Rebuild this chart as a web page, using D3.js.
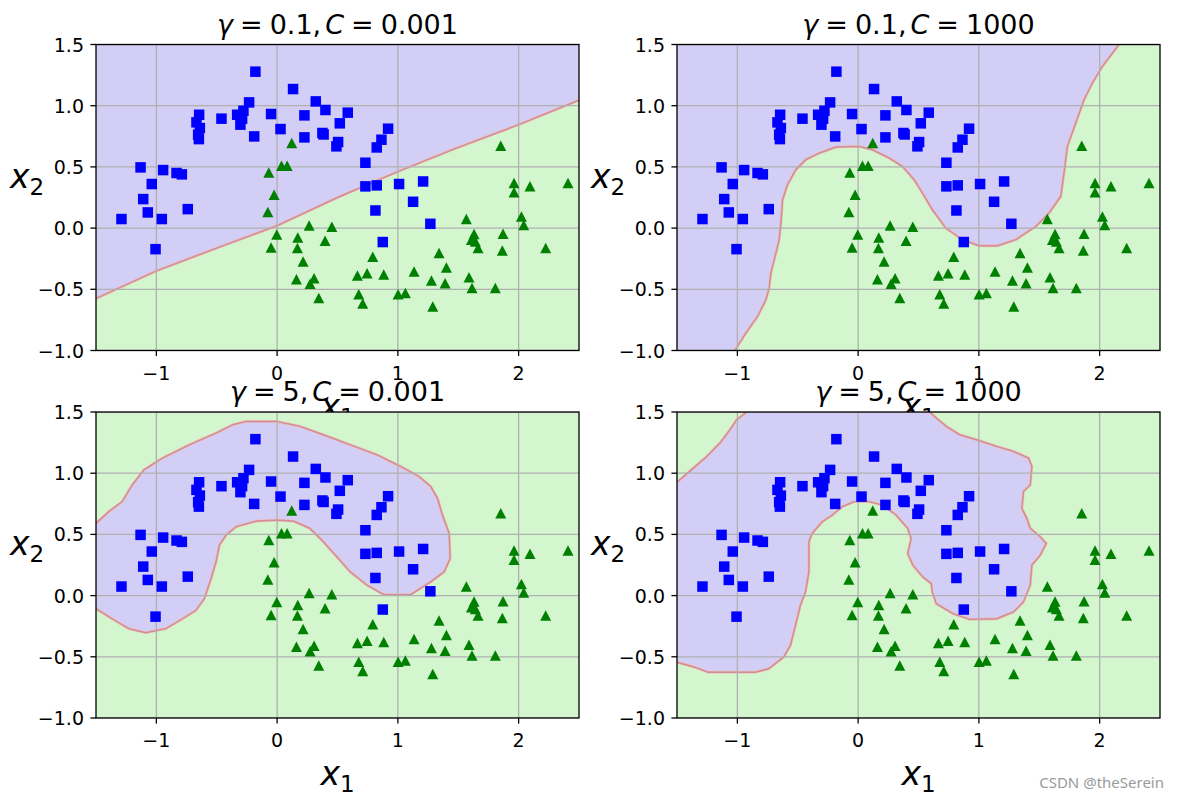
<!DOCTYPE html>
<html><head><meta charset="utf-8">
<script src="https://cdn.jsdelivr.net/npm/d3@7"></script>
<style>body{margin:0;background:#fff} svg text{font-family:"DejaVu Sans",sans-serif}</style>
</head><body><svg id="c" width="1177" height="797"></svg>
<script>
// ---------- data ----------
const xTicks = [-1, 0, 1, 2];
const xTickLabels = ["\u22121", "0", "1", "2"];
const yTicks = [-1, -0.5, 0, 0.5, 1, 1.5];
const yTickLabels = ["\u22121.0", "\u22120.5", "0.0", "0.5", "1.0", "1.5"];
const gammas = ["0.1", "0.1", "5", "5"];
const Cs = ["0.001", "1000", "0.001", "1000"];

const bluePoints = [
 [-0.18,1.278],[0.132,1.136],[-0.232,1.027],[0.32,1.035],[0.40,0.965],[0.585,0.943],
 [-0.05,0.932],[0.226,0.921],[-0.279,0.959],[-0.331,0.926],[-0.29,0.894],[-0.304,0.845],
 [-0.461,0.894],[-0.646,0.926],[-0.668,0.864],[-0.64,0.817],[-0.654,0.763],[-0.648,0.727],
 [-0.19,0.749],[0.028,0.809],[0.226,0.741],[0.375,0.777],[0.385,0.765],[0.519,0.856],[0.505,0.703],
 [0.491,0.668],[0.919,0.812],[0.864,0.722],[0.825,0.659],[0.731,0.534],[0.731,0.341],
 [0.825,0.349],[1.01,0.36],[1.209,0.381],[1.126,0.215],[0.814,0.144],[1.269,0.035],
 [0.875,-0.114],[-1.131,0.496],[-0.944,0.474],[-0.833,0.45],[-0.789,0.439],[-1.038,0.36],
 [-1.109,0.237],[-1.071,0.128],[-0.955,0.074],[-1.289,0.074],[-0.74,0.155],[-1.007,-0.172]
];
const greenPoints = [
 [0.121,0.695],[0.036,0.51],[0.083,0.51],[-0.069,0.455],[-0.025,0.272],[-0.077,0.131],
 [-0.003,-0.052],[-0.05,-0.158],[0.171,-0.076],[0.168,-0.163],[0.265,0.022],[0.453,0.011],
 [0.397,-0.104],[0.215,-0.272],[0.16,-0.417],[0.306,-0.409],[0.273,-0.455],[0.345,-0.572],
 [0.792,-0.234],[0.745,-0.368],[0.665,-0.387],[0.883,-0.379],[0.676,-0.54],[0.709,-0.616],
 [1.002,-0.54],[1.062,-0.531],[1.134,-0.354],[1.278,-0.428],[1.341,-0.204],[1.402,-0.322],
 [1.391,-0.45],[1.289,-0.64],[1.567,0.074],[1.631,-0.049],[1.609,-0.095],[1.642,-0.109],
 [1.664,-0.163],[1.589,-0.401],[1.614,-0.49],[1.807,-0.49],[1.871,-0.046],[1.865,-0.183],
 [1.852,0.673],[1.962,0.368],[1.962,0.292],[2.094,0.341],[2.023,0.095],[2.042,0.025],
 [2.224,-0.163],[2.409,0.368]
];

// decision boundaries (data coordinates)
const boundaryA = [[-1.5,-0.575],[-1,-0.35],[-0.5,-0.163],[0,0.02],[0.5,0.25],[1,0.462],[1.5,0.66],[2,0.845],[2.5,1.045]];
const boundaryB = [[-1.021,-1],[-0.93,-0.858],[-0.833,-0.722],[-0.764,-0.586],[-0.737,-0.49],[-0.723,-0.368],
 [-0.681,-0.204],[-0.654,-0.095],[-0.64,0.041],[-0.626,0.232],[-0.585,0.354],[-0.516,0.477],[-0.433,0.559],
 [-0.323,0.613],[-0.185,0.662],[0.008,0.668],[0.119,0.64],[0.257,0.572],[0.367,0.504],[0.464,0.395],
 [0.533,0.286],[0.615,0.15],[0.726,0.0],[0.864,-0.095],[1.002,-0.144],[1.153,-0.144],[1.305,-0.095],
 [1.471,0.014],[1.581,0.123],[1.678,0.259],[1.705,0.45],[1.733,0.668],[1.802,0.858],[1.871,1.049],
 [1.94,1.185],[2.023,1.322],[2.16,1.5]];
const boundaryC = [[-1.5,0.59],[-1.394,0.686],[-1.283,0.768],[-1.2,0.904],[-1.103,1.027],[-0.95,1.123],
 [-0.728,1.232],[-0.506,1.328],[-0.367,1.396],[-0.256,1.423],[-0.006,1.423],[0.189,1.383],[0.383,1.314],
 [0.606,1.232],[0.828,1.15],[1.022,1.055],[1.175,0.973],[1.272,0.891],[1.328,0.795],[1.369,0.658],
 [1.425,0.508],[1.433,0.303],[1.383,0.194],[1.272,0.112],[1.106,0.008],[0.883,0.008],[0.744,0.085],
 [0.606,0.194],[0.494,0.317],[0.383,0.44],[0.272,0.549],[0.133,0.609],[-0.006,0.617],[-0.172,0.609],
 [-0.339,0.563],[-0.422,0.495],[-0.478,0.413],[-0.506,0.276],[-0.547,0.139],[-0.603,-0.025],
 [-0.672,-0.12],[-0.783,-0.189],[-0.922,-0.27],[-1.089,-0.303],[-1.228,-0.27],[-1.367,-0.189],[-1.5,-0.107]];
const boundaryD1 = [[-1.5,0.926],[-1.381,1.027],[-1.269,1.123],[-1.144,1.246],[-1.061,1.355],[-1.006,1.437],[-0.922,1.5]];
const boundaryD2 = [[0.592,1.5],[0.647,1.451],[0.731,1.383],[0.842,1.314],[0.981,1.273],[1.147,1.219],
 [1.286,1.178],[1.411,1.123],[1.439,1.055],[1.425,0.904],[1.369,0.85],[1.356,0.713],[1.397,0.631],
 [1.425,0.549],[1.508,0.481],[1.558,0.426],[1.508,0.331],[1.439,0.249],[1.425,0.085],[1.369,-0.052],
 [1.286,-0.134],[1.147,-0.189],[0.925,-0.194],[0.786,-0.148],[0.647,-0.066],[0.614,0.03],[0.606,0.098],
 [0.536,0.153],[0.453,0.249],[0.411,0.344],[0.439,0.467],[0.411,0.549],[0.314,0.658],[0.203,0.74],
 [0.092,0.768],[-0.033,0.768],[-0.131,0.727],[-0.214,0.658],[-0.297,0.604],[-0.381,0.508],[-0.408,0.44],
 [-0.408,0.194],[-0.436,0.03],[-0.478,-0.079],[-0.519,-0.243],[-0.561,-0.407],[-0.617,-0.503],
 [-0.742,-0.598],[-0.853,-0.626],[-1.242,-0.626],[-1.353,-0.585],[-1.5,-0.544]];
const boundaries = [[boundaryA],[boundaryB],[boundaryC],[boundaryD1, boundaryD2]];
const regionCorners = [[[2.5,1.5],[-1.5,1.5]], [[-1.5,1.5],[-1.5,-1]], [], []];

// ---------- layout ----------
const W = 483, H = 306;
const origins = [[96,44.5],[677,44.5],[96,412],[677,412]];
const colPurple = "#d3cef5", colGreen = "#d3f6cf";
const svg = d3.select("#c");
const sx = d3.scaleLinear().domain([-1.5, 2.5]).range([0, W]);
const sy = d3.scaleLinear().domain([-1, 1.5]).range([H, 0]);
const line = d3.line().x(d => sx(d[0])).y(d => sy(d[1]));

function xLabel(g, txt, x, y) {
  const t = g.append("text").attr("x", x).attr("y", y).attr("text-anchor", "middle").attr("font-size", 33);
  t.append("tspan").attr("font-style", "italic").text("x");
  t.append("tspan").attr("font-size", 23).attr("dy", 7).text(txt);
}

origins.forEach((o, i) => {
  const g = svg.append("g").attr("transform", `translate(${o[0]},${o[1]})`);
  const clipId = "clip" + i;
  g.append("clipPath").attr("id", clipId).append("rect").attr("width", W).attr("height", H);
  const p = g.append("g").attr("clip-path", `url(#${clipId})`);
  p.append("rect").attr("width", W).attr("height", H).attr("fill", colGreen);
  const poly = [].concat(...boundaries[i], regionCorners[i]);
  p.append("path").attr("d", line(poly) + "Z").attr("fill", colPurple);
  boundaries[i].forEach(b => {
    p.append("path").attr("d", line(b)).attr("fill", "none").attr("stroke", "#e8c0b0").attr("stroke-width", 2.8);
    p.append("path").attr("d", line(b)).attr("fill", "none").attr("stroke", "#d4899c").attr("stroke-width", 1.4);
  });
  // grid
  xTicks.forEach(v => p.append("line").attr("x1", sx(v)).attr("x2", sx(v)).attr("y1", 0).attr("y2", H)
      .attr("stroke", "#b0b0b0").attr("stroke-width", 1.3));
  yTicks.forEach(v => p.append("line").attr("y1", sy(v)).attr("y2", sy(v)).attr("x1", 0).attr("x2", W)
      .attr("stroke", "#b0b0b0").attr("stroke-width", 1.3));
  // points
  const s = 10.5;
  p.selectAll(".sq").data(bluePoints).join("rect")
    .attr("x", d => sx(d[0]) - s/2).attr("y", d => sy(d[1]) - s/2)
    .attr("width", s).attr("height", s).attr("fill", "#0000ff");
  const tw = 11, th = 10.5;
  p.selectAll(".tr").data(greenPoints).join("path")
    .attr("d", d => { const x = sx(d[0]), y = sy(d[1]);
      return `M${x},${y - th/2}L${x + tw/2},${y + th/2}L${x - tw/2},${y + th/2}Z`; })
    .attr("fill", "#008000");
  // frame
  g.append("rect").attr("width", W).attr("height", H).attr("fill", "none").attr("stroke", "#000").attr("stroke-width", 1.3);
  // ticks
  xTicks.forEach((v, k) => {
    g.append("line").attr("x1", sx(v)).attr("x2", sx(v)).attr("y1", H).attr("y2", H + 5.6).attr("stroke", "#000").attr("stroke-width", 1.3);
    g.append("text").attr("x", sx(v)).attr("y", H + 29).attr("text-anchor", "middle").attr("font-size", 19).text(xTickLabels[k]);
  });
  yTicks.forEach((v, k) => {
    g.append("line").attr("x1", 0).attr("x2", -5.6).attr("y1", sy(v)).attr("y2", sy(v)).attr("stroke", "#000").attr("stroke-width", 1.3);
    g.append("text").attr("x", -12).attr("y", sy(v) + 7).attr("text-anchor", "end").attr("font-size", 19).text(yTickLabels[k]);
  });
  // title
  const t = g.append("text").attr("x", W/2).attr("y", -11).attr("text-anchor", "middle").attr("font-size", 27);
  t.append("tspan").attr("font-style", "italic").text("\u03b3");
  t.append("tspan").attr("dx", 7).text("=");
  t.append("tspan").attr("dx", 7).text(gammas[i] + ",");
  t.append("tspan").attr("dx", 4).attr("font-style", "italic").text("C");
  t.append("tspan").attr("dx", 7).text("=");
  t.append("tspan").attr("dx", 7).text(Cs[i]);
  // axis labels
  xLabel(g, "1", W/2, H + 67);
  xLabel(g, "2", -69, H/2 - 10);
});

svg.append("text").attr("x", 1164).attr("y", 788).attr("text-anchor", "end")
  .attr("font-size", 15).attr("fill", "#9a9a9a").style("font-family", "'Noto Sans', sans-serif").text("CSDN @theSerein");
</script></body></html>
